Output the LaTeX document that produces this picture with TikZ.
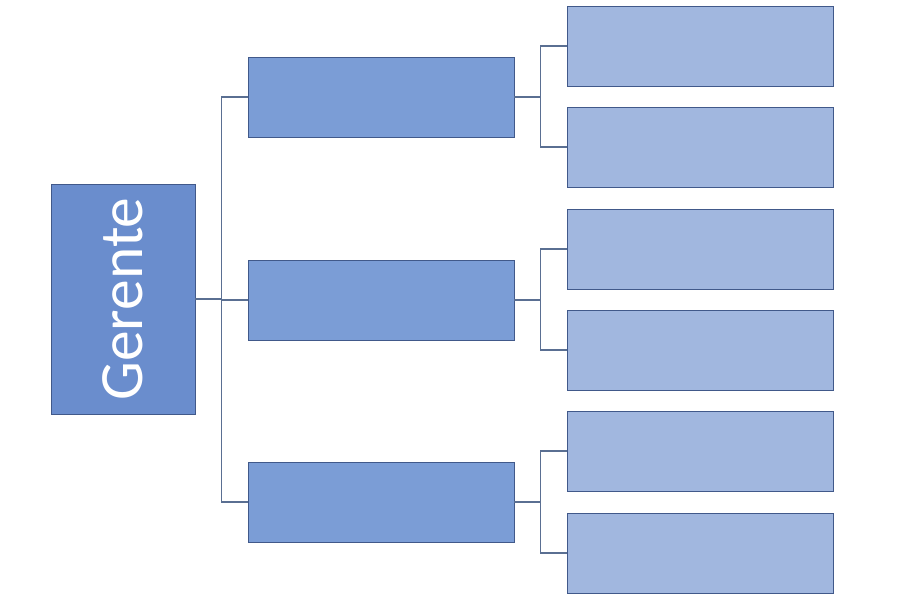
\documentclass[tikz,border=0pt]{standalone}
\usepackage{fontspec}
\setmainfont{Carlito}
\definecolor{boxline}{HTML}{41598A}
\definecolor{linkline}{HTML}{5A6F92}
\definecolor{gerentefill}{HTML}{6A8DCD}
\definecolor{midfill}{HTML}{7B9DD6}
\definecolor{leaffill}{HTML}{A1B7DF}
\begin{document}
\begin{tikzpicture}[
    gerentebox/.style={draw=boxline, fill=gerentefill, thin, minimum width=2.88cm, minimum height=4.6cm, inner sep=0pt},
    midbox/.style={draw=boxline, fill=midfill, thin, minimum width=5.32cm, minimum height=1.6cm},
    leafbox/.style={draw=boxline, fill=leaffill, thin, minimum width=5.32cm, minimum height=1.6cm},
    link/.style={draw=linkline, semithick}
]
    % \draw[help lines, color=gray!30, dashed] (0,0) grid (18,12);
    \useasboundingbox (0,0) rectangle (18,12);

    \node[gerentebox] (g) at (2.46,6.02) {};
    \node[rotate=90, text=white, font=\fontsize{35}{40}\selectfont] (gtext) at (g.center) {Gerente};

    \foreach \i/\y in {1/10.06, 2/6.0, 3/1.96}
        \node[midbox] (m\i) at (7.62,\y) {};

    \foreach \i/\y in {1/11.08, 2/9.06, 3/7.02, 4/5.0, 5/2.98, 6/0.94}
        \node[leafbox] (l\i) at (14.0,\y) {};

    \foreach \i in {1,2,3}
        \draw[link] (g.east) -- ++(0.52,0) |- (m\i.west);

    \foreach \i/\a/\b in {1/1/2, 2/3/4, 3/5/6}
    {
        \draw[link] (m\i.east) -- ++(0.52,0) |- (l\a.west);
        \draw[link] (m\i.east) -- ++(0.52,0) |- (l\b.west);
    }
\end{tikzpicture}
\end{document}
